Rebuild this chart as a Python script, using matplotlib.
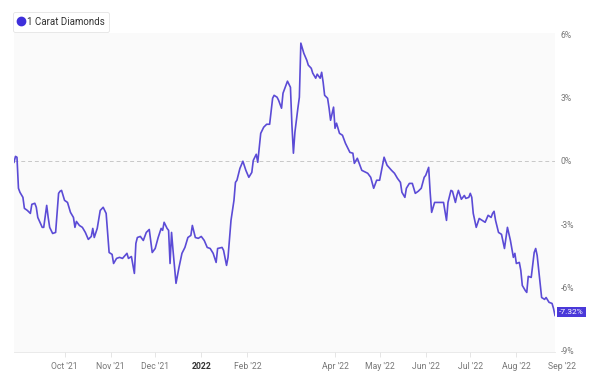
import numpy as np
import pandas as pd
import matplotlib
matplotlib.use('Agg')
import matplotlib.pyplot as plt
from matplotlib.lines import Line2D

plt.rcParams['font.family'] = ['Roboto', 'DejaVu Sans']

# data: daily % change of 1 carat diamond prices, days counted from the first observation
start_date = '2021-08-28'
day_index = [
    0, 1, 2, 3, 4, 6, 7, 9, 11, 12, 14, 15, 16, 19, 20, 22, 23, 24, 26, 28,
    30, 31, 32, 34, 36, 38, 40, 41, 42, 44, 46, 48, 50, 52, 53, 54, 56, 58, 60, 62,
    64, 66, 67, 69, 71, 73, 76, 77, 79, 81, 82, 83, 85, 87, 89, 91, 93, 95, 97, 99,
    100, 101, 103, 104, 105, 106, 107, 109, 111, 113, 115, 117, 119, 120, 122, 124, 126, 128, 130, 132,
    134, 136, 137, 140, 141, 143, 144, 146, 148, 149, 150, 152, 154, 156, 158, 160, 161, 163, 164, 166,
    168, 170, 172, 174, 175, 177, 178, 180, 181, 183, 184, 186, 187, 188, 189, 191, 192, 193, 195, 197,
    198, 200, 201, 203, 204, 206, 207, 208, 209, 211, 212, 213, 215, 216, 217, 219, 221, 223, 226, 228,
    229, 231, 234, 238, 240, 242, 244, 246, 249, 251, 254, 256, 258, 260, 261, 263, 264, 266, 268, 269,
    270, 272, 274, 276, 277, 279, 280, 281, 283, 285, 287, 289, 291, 292, 294, 295, 297, 298, 299, 301,
    303, 304, 306, 307, 308, 309, 311, 313, 315, 317, 319, 321, 322, 323, 324, 326, 328, 330, 332, 334,
    336, 337, 338, 340, 341, 342, 344, 345, 346, 348, 350, 351, 352, 354, 355, 357, 358, 360, 362, 363,
    364,
]
pct_change = [
    -0.07, 0.21, 0.17, -1.30, -1.49, -1.73, -2.25, -2.35, -2.49, -2.06, -2.01, -2.20, -2.68, -3.15, -3.15, -2.11, -2.68, -3.15, -3.44, -3.39,
    -1.54, -1.44, -1.40, -1.87, -1.97, -2.44, -2.68, -3.15, -2.87, -3.06, -3.15, -3.39, -3.72, -3.58, -3.20, -3.63, -3.20, -2.35, -2.20, -2.49,
    -4.34, -4.43, -4.86, -4.62, -4.57, -4.62, -4.38, -4.62, -4.53, -5.33, -3.91, -3.63, -3.58, -3.77, -3.39, -3.25, -4.34, -4.15, -3.63, -3.20,
    -3.29, -2.91, -3.20, -3.29, -4.86, -3.39, -4.24, -5.80, -5.05, -4.38, -4.10, -3.63, -3.53, -3.06, -3.63, -3.67, -3.58, -3.77, -4.10, -4.15,
    -4.38, -4.81, -4.15, -4.10, -4.24, -4.95, -4.57, -2.82, -1.87, -1.02, -0.92, -0.36, -0.02, -0.45, -0.78, -0.55, 0.02, 0.31, -0.07, 1.30,
    1.59, 1.73, 1.73, 2.96, 3.10, 3.01, 2.87, 2.49, 3.20, 3.58, 3.77, 3.48, 1.68, 0.36, 1.35, 2.49, 3.01, 5.57, 5.09, 4.76,
    4.53, 4.38, 4.15, 3.91, 4.10, 3.91, 4.19, 3.72, 3.10, 2.96, 2.49, 1.92, 2.54, 1.54, 1.78, 1.30, 1.21, 0.83, 0.40, 0.36,
    -0.12, 0.12, -0.45, -0.59, -0.78, -1.30, -0.92, -0.92, 0.17, -0.21, -0.45, -0.59, -0.83, -1.02, -1.49, -1.73, -1.30, -1.07, -1.07, -1.30,
    -1.54, -1.44, -1.30, -0.78, -0.69, -0.31, -1.49, -2.44, -1.97, -1.97, -1.97, -1.97, -2.82, -1.97, -1.40, -1.44, -1.97, -1.64, -1.40, -1.82,
    -1.64, -1.78, -1.73, -1.54, -1.73, -2.49, -3.15, -2.73, -2.82, -2.91, -2.58, -2.68, -2.49, -2.39, -2.82, -3.39, -3.48, -4.15, -3.15, -3.77,
    -4.57, -4.38, -4.86, -4.81, -5.19, -5.90, -6.14, -6.23, -5.47, -5.52, -4.34, -4.15, -4.48, -5.80, -6.47, -6.56, -6.47, -6.70, -6.75, -6.99,
    -7.32,
]
series_name = '1 Carat Diamonds'
tick_dates = ['2021-10-01', '2021-11-01', '2021-12-01', '2022-01-01', '2022-02-01',
              '2022-04-01', '2022-05-01', '2022-06-01', '2022-07-01', '2022-08-01']
tick_labels = ["Oct '21", "Nov '21", "Dec '21", '2022', "Feb '22",
               "Apr '22", "May '22", "Jun '22", "Jul '22", "Aug '22"]
extra_label_date = '2022-09-01'
extra_label = "Sep '22"
y_ticks = [6, 3, 0, -3, -6, -9]

dates = pd.Timestamp(start_date) + pd.to_timedelta(day_index, unit='D')

line_color = '#5b4bd6'
dot_color = '#3e2fdb'
label_gray = '#777777'
tick_len, tick_pad = 3.5, 4

fig = plt.figure(figsize=(6, 3.85), dpi=100, facecolor='white')
ax = fig.add_axes([14 / 600, 1 - 352 / 385, 541 / 600, 319 / 385])
ax.set_facecolor('#fafafa')

ax.plot(dates, pct_change, color=line_color, lw=1.2, zorder=3, solid_joinstyle='round')
ax.axhline(0, color='#c8c8c8', lw=0.7, ls=(0, (4, 3)), zorder=1)

ax.set_xlim(dates[0], dates[-1])
ax.set_ylim(-9.05, 6.05)

for s in ['top', 'left', 'right']:
    ax.spines[s].set_visible(False)
ax.spines['bottom'].set_color('#e6e6e6')
ax.spines['bottom'].set_linewidth(0.6)

ax.set_xticks(pd.to_datetime(tick_dates))
ax.set_xticklabels(tick_labels)
ax.tick_params(axis='x', length=tick_len, width=0.6, color='#e0e0e0', labelsize=6.2,
               labelcolor=label_gray, pad=tick_pad)
for lbl in ax.get_xticklabels():
    if lbl.get_text() == '2022':
        lbl.set_fontweight('bold')
        lbl.set_color('#333333')

# Sep '22 sits past the end of the data, so it is drawn as a plain label
ax.annotate(extra_label, xy=(pd.Timestamp(extra_label_date), 0),
            xycoords=('data', 'axes fraction'),
            xytext=(0, -(tick_len + tick_pad)), textcoords='offset points',
            ha='center', va='top', fontsize=6.2, color=label_gray,
            annotation_clip=False)

ax.yaxis.tick_right()
ax.set_yticks(y_ticks)
ax.set_yticklabels([f'{v}%' for v in y_ticks])
ax.tick_params(axis='y', length=0, labelsize=6.2, labelcolor=label_gray, pad=4)

# last value tag
last = pct_change[-1]
ax.annotate(f'{last:.2f}%', xy=(1, last), xycoords=('axes fraction', 'data'),
            xytext=(3, 2.5), textcoords='offset points', ha='left', va='center',
            fontsize=6, color='white', zorder=5, annotation_clip=False,
            bbox=dict(boxstyle='square,pad=0.25', fc='#4a39d9', ec='none'))

handle = Line2D([], [], marker='o', color='none', markerfacecolor=dot_color,
                markeredgecolor=dot_color, markersize=6)
leg = fig.legend([handle], [series_name], loc='upper left',
                 bbox_to_anchor=(13 / 600, 1 - 12 / 385), borderaxespad=0,
                 frameon=True, fancybox=True, fontsize=7, handlelength=0.6,
                 handletextpad=0.3, borderpad=0.5)
leg.get_frame().set_edgecolor('#dddddd')
leg.get_frame().set_linewidth(0.6)
for t in leg.get_texts():
    t.set_color('#333333')

fig.savefig('out.png', dpi=100, facecolor='white')
